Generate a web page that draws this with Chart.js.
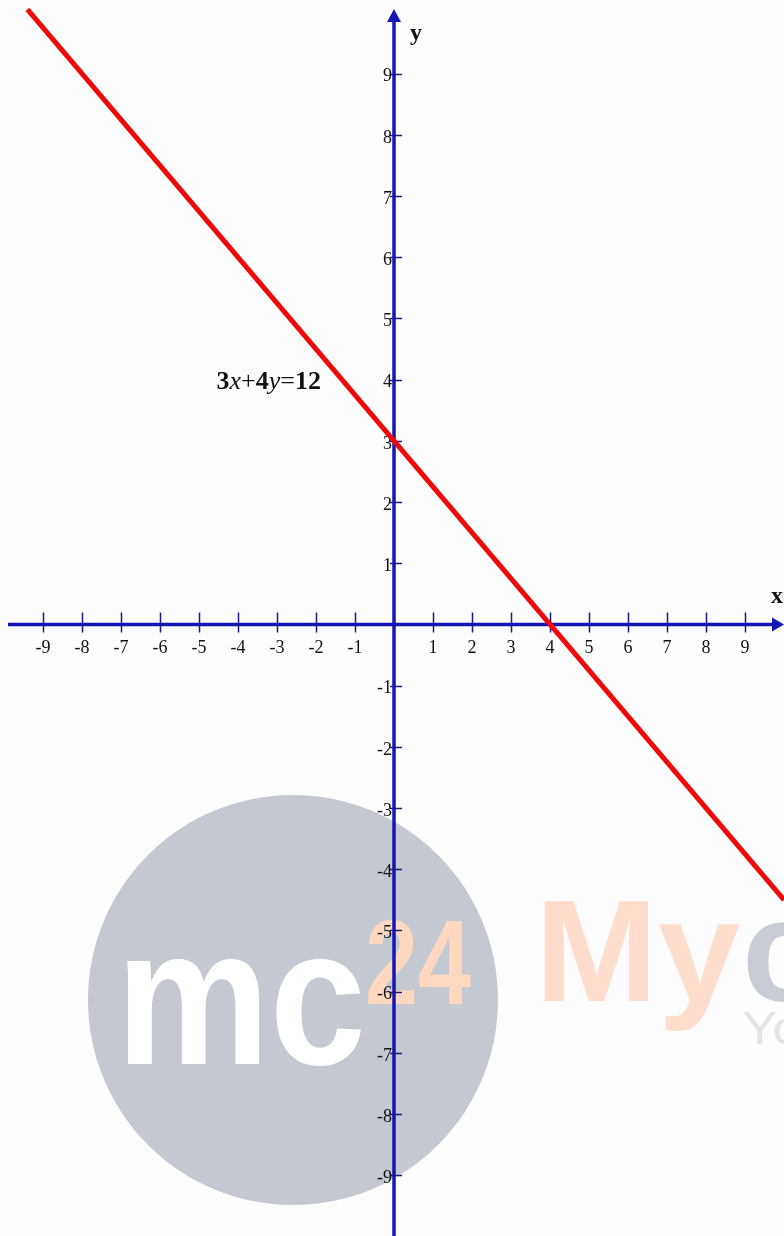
<!DOCTYPE html>
<html>
<head>
<meta charset="utf-8">
<script src="https://cdn.jsdelivr.net/npm/chart.js@4/dist/chart.umd.min.js"></script>
<style>
  html, body { margin: 0; padding: 0; background: #fdfdfd; }
  #wrap { width: 784px; height: 1236px; position: relative; }
</style>
</head>
<body>
<div id="wrap"><canvas id="c"></canvas></div>
<script>
// ---- data ----
const lineXs = [-9.4, 0, 4, 10];
const lineYs = [10.05, 3, 0, -4.5];
const xTickValues = [-9, -8, -7, -6, -5, -4, -3, -2, -1, 1, 2, 3, 4, 5, 6, 7, 8, 9];
const xTickLabels = ['-9', '-8', '-7', '-6', '-5', '-4', '-3', '-2', '-1', '1', '2', '3', '4', '5', '6', '7', '8', '9'];
const yTickValues = [9, 8, 7, 6, 5, 4, 3, 2, 1, -1, -2, -3, -4, -5, -6, -7, -8, -9];
const yTickLabels = ['9', '8', '7', '6', '5', '4', '3', '2', '1', '-1', '-2', '-3', '-4', '-5', '-6', '-7', '-8', '-9'];
const equationParts = [['3', 'bold'], ['x', 'italic'], ['+', 'normal'], ['4', 'bold'], ['y', 'italic'], ['=', 'normal'], ['12', 'bold']];
const equationAnchor = { x: -4.55, y: 3.85 };
const axisNames = { x: 'x', y: 'y' };

const points = lineXs.map((x, i) => ({ x: x, y: lineYs[i] }));

const AXIS = '#1616b4';
const TICK = '#1a1a90';
const SERIF = '"Liberation Serif", "Times New Roman", serif';
const SANS = '"Liberation Sans", Arial, sans-serif';

const watermark = {
  id: 'watermark',
  beforeDatasetsDraw(chart) {
    const ctx = chart.ctx;
    ctx.save();
    ctx.fillStyle = '#c4c8d0';
    ctx.beginPath();
    ctx.arc(293, 1000, 205, 0, Math.PI * 2);
    ctx.fill();
    function fitText(txt, font, color, x, y, w) {
      ctx.font = font;
      const m = ctx.measureText(txt).width;
      ctx.save();
      ctx.translate(x, y);
      ctx.scale(w / m, 1);
      ctx.fillStyle = color;
      ctx.textBaseline = 'alphabetic';
      ctx.textAlign = 'left';
      ctx.fillText(txt, 0, 0);
      ctx.restore();
    }
    fitText('mc', 'bold 195px ' + SANS, '#ffffff', 116, 1064, 250);
    fitText('24', 'bold 120px ' + SANS, '#ffd8bf', 365, 1004, 106);
    fitText('My', 'bold 144px ' + SANS, '#ffdccc', 535, 1001, 205);
    fitText('c', 'bold 144px ' + SANS, '#c8ccd4', 742, 1001, 80);
    fitText('Yo', '46px ' + SANS, '#e2e4e8', 742, 1044, 60);
    ctx.restore();
  }
};

const axesPlugin = {
  id: 'axesPlugin',
  beforeDatasetsDraw(chart) {
    const ctx = chart.ctx;
    const xs = chart.scales.x, ys = chart.scales.y;
    const x0 = xs.getPixelForValue(0), y0 = ys.getPixelForValue(0);
    const L = chart.chartArea.left, R = chart.chartArea.right;
    const T = chart.chartArea.top, B = chart.chartArea.bottom;
    ctx.save();
    // axis lines
    ctx.strokeStyle = AXIS;
    ctx.lineWidth = 3.5;
    ctx.beginPath();
    ctx.moveTo(L + 8, y0); ctx.lineTo(R - 8, y0);
    ctx.moveTo(x0, B); ctx.lineTo(x0, T + 20);
    ctx.stroke();
    // arrows
    ctx.fillStyle = AXIS;
    ctx.beginPath();
    ctx.moveTo(R, y0); ctx.lineTo(R - 12, y0 - 7); ctx.lineTo(R - 12, y0 + 7); ctx.closePath();
    ctx.fill();
    ctx.beginPath();
    ctx.moveTo(x0, T + 9); ctx.lineTo(x0 - 7, T + 22); ctx.lineTo(x0 + 7, T + 22); ctx.closePath();
    ctx.fill();
    // ticks
    ctx.strokeStyle = TICK;
    ctx.lineWidth = 1.5;
    ctx.beginPath();
    xTickValues.forEach(v => {
      const px = Math.round(xs.getPixelForValue(v)) + 0.5;
      ctx.moveTo(px, y0 - 12); ctx.lineTo(px, y0 + 8);
    });
    yTickValues.forEach(v => {
      const py = Math.round(ys.getPixelForValue(v)) + 0.5;
      ctx.moveTo(x0 - 4, py); ctx.lineTo(x0 + 8, py);
    });
    ctx.stroke();
    // tick labels
    ctx.fillStyle = '#111';
    ctx.font = '18px ' + SERIF;
    ctx.textAlign = 'center';
    ctx.textBaseline = 'middle';
    xTickValues.forEach((v, i) => {
      ctx.fillText(xTickLabels[i], xs.getPixelForValue(v), y0 + 24);
    });
    ctx.textAlign = 'right';
    yTickValues.forEach((v, i) => {
      ctx.fillText(yTickLabels[i], x0 - 2, ys.getPixelForValue(v) + 3);
    });
    // axis names
    ctx.font = 'bold 24px ' + SERIF;
    ctx.textAlign = 'left';
    ctx.textBaseline = 'alphabetic';
    ctx.fillText(axisNames.x, R - 13, y0 - 21);
    ctx.fillText(axisNames.y, x0 + 16, T + 40);
    ctx.restore();
  },
  afterDatasetsDraw(chart) {
    const ctx = chart.ctx;
    const xs = chart.scales.x, ys = chart.scales.y;
    ctx.save();
    let px = xs.getPixelForValue(equationAnchor.x);
    const py = ys.getPixelForValue(equationAnchor.y);
    ctx.fillStyle = '#111';
    ctx.textBaseline = 'alphabetic';
    ctx.textAlign = 'left';
    equationParts.forEach(([t, style]) => {
      let f;
      if (style === 'bold') f = 'bold 26px ' + SERIF;
      else if (style === 'italic') f = 'italic 26px ' + SERIF;
      else f = '26px ' + SERIF;
      ctx.font = f;
      ctx.fillText(t, px, py);
      px += ctx.measureText(t).width;
    });
    ctx.restore();
  }
};

new Chart(document.getElementById('c'), {
  type: 'scatter',
  data: {
    datasets: [{
      data: points,
      showLine: true,
      borderColor: '#ee0a0a',
      borderWidth: 5,
      pointRadius: 0,
      fill: false,
      tension: 0
    }]
  },
  options: {
    responsive: true,
    maintainAspectRatio: false,
    animation: false,
    layout: { padding: 0 },
    plugins: { legend: { display: false }, tooltip: { enabled: false } },
    scales: {
      x: { type: 'linear', display: false, min: -10.103, max: 10.0 },
      y: { type: 'linear', display: false, min: -9.992, max: 10.204 }
    }
  },
  plugins: [watermark, axesPlugin]
});
</script>
</body>
</html>
